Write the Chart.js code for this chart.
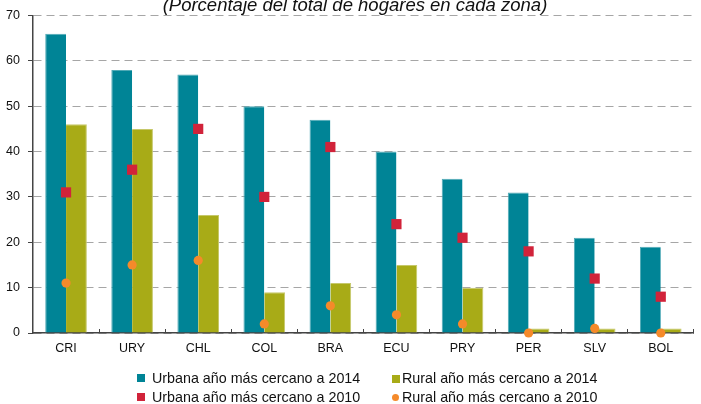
<!DOCTYPE html>
<html>
<head>
<meta charset="utf-8">
<script src="https://cdn.jsdelivr.net/npm/chart.js@4.4.1/dist/chart.umd.min.js"></script>
<style>
    html, body { margin: 0; padding: 0; background: #fff; overflow: hidden; }
    #wrap { position: relative; width: 701px; height: 404px; overflow: hidden; font-family: "Liberation Sans", Arial, sans-serif; }
    #chart { position: absolute; left: 0; top: 0; }
    #title { position: absolute; top: -4px; left: 0; width: 701px; padding-left: 9px; box-sizing: border-box;
             text-align: center; font-size: 18.5px; line-height: 18px; font-style: italic; color: #111; }
    .legend-item { position: absolute; font-size: 14.3px; line-height: 16px; color: #111; white-space: nowrap; }
    .swatch { position: absolute; width: 8px; height: 8px; }
</style>
</head>
<body>
<div id="wrap">
    <canvas id="chart" width="701" height="404"></canvas>
    <div id="title">(Porcentaje del total de hogares en cada zona)</div>
    <div id="legend"></div>
</div>
<script>
// Countries on the x axis
const countries = ['CRI', 'URY', 'CHL', 'COL', 'BRA', 'ECU', 'PRY', 'PER', 'SLV', 'BOL'];

// Series values (percent of households)
const urban2014 = [66, 58, 57, 50, 47, 40, 34, 31, 21, 19];
const rural2014 = [46, 45, 26, 9, 11, 15, 10, 1, 1, 1];
const urban2010 = [31, 36, 45, 30, 41, 24, 21, 18, 12, 8];
const rural2010 = [11, 15, 16, 2, 6, 4, 2, 0, 1, 0];

// Y axis ticks
const yTicks = [0, 10, 20, 30, 40, 50, 60, 70];

const seriesLabels = [
    'Urbana año más cercano a 2014',
    'Rural año más cercano a 2014',
    'Urbana año más cercano a 2010',
    'Rural año más cercano a 2010'
];

const colors = {
    teal: '#008496',
    olive: '#a8ab17',
    red: '#d1233a',
    orange: '#f58a2a'
};

const ctx = document.getElementById('chart').getContext('2d');
new Chart(ctx, {
    type: 'bar',
    data: {
        labels: countries,
        datasets: [
            {
                label: seriesLabels[2],
                type: 'line',
                data: urban2010,
                showLine: false,
                clip: false,
                pointStyle: 'rect',
                pointRadius: 7.2,
                pointBackgroundColor: colors.red,
                pointBorderWidth: 0,
                order: 0
            },
            {
                label: seriesLabels[3],
                type: 'line',
                data: rural2010,
                showLine: false,
                clip: false,
                pointStyle: 'circle',
                pointRadius: 4.6,
                pointBackgroundColor: colors.orange,
                pointBorderWidth: 0,
                order: 0
            },
            {
                label: seriesLabels[0],
                data: urban2014,
                backgroundColor: colors.teal,
                borderColor: '#4fa9b5',
                borderWidth: { top: 1, left: 1, right: 0, bottom: 0 },
                categoryPercentage: 0.63,
                barPercentage: 1,
                order: 1
            },
            {
                label: seriesLabels[1],
                data: rural2014,
                backgroundColor: colors.olive,
                borderColor: '#c6c86a',
                borderWidth: { top: 1, left: 0, right: 1, bottom: 0 },
                categoryPercentage: 0.63,
                barPercentage: 1,
                order: 1
            }
        ]
    },
    options: {
        responsive: false,
        animation: false,
        layout: { padding: { top: 15, right: 0, bottom: 0, left: 0 } },
        plugins: {
            legend: { display: false },
            tooltip: { enabled: false }
        },
        scales: {
            x: {
                grid: {
                    display: true,
                    drawOnChartArea: false,
                    tickLength: -4,
                    tickColor: '#444'
                },
                border: { color: '#444', width: 1.5 },
                ticks: {
                    color: '#111',
                    font: { family: 'Liberation Sans', size: 12.5 },
                    padding: 12
                },
                afterFit: (scale) => { scale.height = 71; }
            },
            y: {
                min: 0,
                max: 70,
                afterBuildTicks: (scale) => { scale.ticks = yTicks.map(v => ({ value: v })); },
                grid: {
                    color: '#a6a6a6',
                    tickLength: 5,
                    tickColor: '#444'
                },
                // in v4 the grid line dash lives under border
                border: { color: '#444', width: 1.5, dash: [8, 5] },
                ticks: {
                    color: '#111',
                    font: { family: 'Liberation Sans', size: 12.5 },
                    padding: 8
                },
                afterFit: (scale) => { scale.width = 33; }
            }
        }
    }
});

// Two-column legend under the chart
const legendItems = [
    { text: seriesLabels[0], color: colors.teal, round: false, box: [137, 374], textPos: [152, 370] },
    { text: seriesLabels[1], color: colors.olive, round: false, box: [392, 375], textPos: [402, 370] },
    { text: seriesLabels[2], color: colors.red, round: false, box: [137, 393], textPos: [152, 389] },
    { text: seriesLabels[3], color: colors.orange, round: true, box: [392, 394], textPos: [402, 389] }
];

const legend = document.getElementById('legend');
legendItems.forEach(item => {
    const sw = document.createElement('div');
    sw.className = 'swatch';
    sw.style.left = item.box[0] + 'px';
    sw.style.top = item.box[1] + 'px';
    sw.style.background = item.color;
    if (item.round) {
        sw.style.width = '7px';
        sw.style.height = '7px';
        sw.style.borderRadius = '50%';
    }
    legend.appendChild(sw);

    const label = document.createElement('div');
    label.className = 'legend-item';
    label.style.left = item.textPos[0] + 'px';
    label.style.top = item.textPos[1] + 'px';
    label.textContent = item.text;
    legend.appendChild(label);
});
</script>
</body>
</html>
